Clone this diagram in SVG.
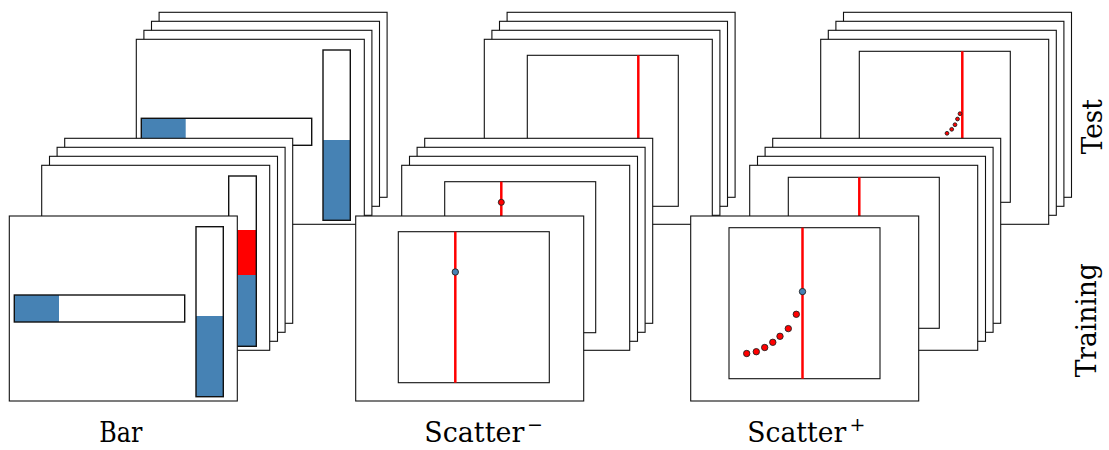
<svg xmlns="http://www.w3.org/2000/svg" width="1109" height="450" viewBox="0 0 1109 450">
  <style>
    .frame { fill: #fff; stroke: #111; stroke-width: 1.1; }
    .plot { fill: #fff; stroke: #111; stroke-width: 1.1; }
    .bar { fill: none; stroke: #111; stroke-width: 1.4; }
    .blue { fill: #4682b4; }
    .red { fill: #ff0000; }
    .rule { stroke: #ff0000; stroke-width: 2.5; fill: none; }
    .dot-r { fill: #ff0000; stroke: #222; stroke-width: 0.9; }
    .dot-b { fill: #4682b4; stroke: #222; stroke-width: 0.9; }
    .label { font-family: "DejaVu Serif", "Liberation Serif", serif; font-size: 28px; fill: #000; }
    .sup { font-family: "DejaVu Serif", "Liberation Serif", serif; font-size: 19px; fill: #000; }
  </style>

  <!-- Bar condition -->
  <g id="bar">
    <g id="bar-test">
      <rect class="frame" x="159.1" y="12.3" width="228" height="185"/>
      <rect class="frame" x="151.5" y="21.3" width="228" height="185"/>
      <rect class="frame" x="143.9" y="30.3" width="228" height="185"/>
      <rect class="frame" x="136.3" y="39.3" width="228" height="185"/>
      <rect class="blue" x="141.3" y="118.3" width="44.4" height="27"/>
      <rect class="bar" x="141.3" y="118.3" width="170.4" height="27"/>
      <rect class="blue" x="323" y="140" width="27.3" height="80.3"/>
      <rect class="bar" x="323" y="50" width="27.3" height="170.3"/>
    </g>
    <g id="bar-training">
      <rect class="frame" x="64.7" y="138.3" width="228" height="185"/>
      <rect class="frame" x="57.1" y="147.3" width="228" height="185"/>
      <rect class="frame" x="49.5" y="156.3" width="228" height="185"/>
      <rect class="frame" x="41.7" y="165.3" width="228" height="185"/>
      <rect class="red" x="228.7" y="230" width="27.6" height="45"/>
      <rect class="blue" x="228.7" y="275" width="27.6" height="71.3"/>
      <rect class="bar" x="228.7" y="176" width="27.6" height="170.3"/>
      <rect class="frame" x="9.3" y="216" width="228" height="185"/>
      <rect class="blue" x="14.3" y="295" width="44.7" height="27"/>
      <rect class="bar" x="14.3" y="295" width="170.4" height="27"/>
      <rect class="blue" x="196" y="316" width="27.3" height="80.7"/>
      <rect class="bar" x="196" y="226.7" width="27.3" height="170"/>
    </g>
  </g>

  <!-- Scatter minus condition -->
  <g id="scatter-minus">
    <g id="scatter-minus-test">
      <rect class="frame" x="507.1" y="12.3" width="228" height="185"/>
      <rect class="frame" x="499.5" y="21.3" width="228" height="185"/>
      <rect class="frame" x="491.9" y="30.3" width="228" height="185"/>
      <rect class="frame" x="484.3" y="39.3" width="228" height="185"/>
      <rect class="plot" x="527.3" y="55.3" width="151" height="151"/>
      <line class="rule" x1="638.3" y1="55.3" x2="638.3" y2="206.3"/>
    </g>
    <g id="scatter-minus-training">
      <rect class="frame" x="424.7" y="138.3" width="228" height="185"/>
      <rect class="frame" x="417.1" y="147.3" width="228" height="185"/>
      <rect class="frame" x="409.5" y="156.3" width="228" height="185"/>
      <rect class="frame" x="401.7" y="165.3" width="228" height="185"/>
      <rect class="plot" x="444.7" y="181.7" width="151" height="151"/>
      <line class="rule" x1="501.3" y1="181.7" x2="501.3" y2="332.7"/>
      <circle class="dot-r" cx="501.3" cy="202.3" r="3"/>
      <rect class="frame" x="355.7" y="216" width="228" height="185"/>
      <rect class="plot" x="398.3" y="231.7" width="151" height="151"/>
      <line class="rule" x1="455.3" y1="231.7" x2="455.3" y2="382.7"/>
      <circle class="dot-b" cx="455.3" cy="272" r="3.2"/>
    </g>
  </g>

  <!-- Scatter plus condition -->
  <g id="scatter-plus">
    <g id="scatter-plus-test">
      <rect class="frame" x="843.5" y="12.3" width="228" height="185"/>
      <rect class="frame" x="835.9" y="21.3" width="228" height="185"/>
      <rect class="frame" x="828.3" y="30.3" width="228" height="185"/>
      <rect class="frame" x="820.7" y="39.3" width="228" height="185"/>
      <rect class="plot" x="859.3" y="51.3" width="151" height="151"/>
      <line class="rule" x1="962.3" y1="51.3" x2="962.3" y2="202.3"/>
      <circle class="dot-r" cx="947" cy="133.3" r="1.9" stroke-width="0.7"/>
      <circle class="dot-r" cx="951.7" cy="129.3" r="1.9" stroke-width="0.7"/>
      <circle class="dot-r" cx="955" cy="124.7" r="1.9" stroke-width="0.7"/>
      <circle class="dot-r" cx="957.5" cy="119" r="1.9" stroke-width="0.7"/>
      <circle class="dot-r" cx="960" cy="113.7" r="1.9" stroke-width="0.7"/>
    </g>
    <g id="scatter-plus-training">
      <rect class="frame" x="772.7" y="138.3" width="228" height="185"/>
      <rect class="frame" x="765.1" y="147.3" width="228" height="185"/>
      <rect class="frame" x="757.5" y="156.3" width="228" height="185"/>
      <rect class="frame" x="749.7" y="165.3" width="228" height="185"/>
      <rect class="plot" x="788.3" y="177.3" width="151" height="151"/>
      <line class="rule" x1="859.3" y1="177.3" x2="859.3" y2="328.3"/>
      <rect class="frame" x="690.7" y="216" width="228" height="185"/>
      <rect class="plot" x="729" y="227.7" width="151" height="151"/>
      <line class="rule" x1="802.5" y1="227.7" x2="802.5" y2="378.7"/>
      <circle class="dot-r" cx="746.7" cy="353.5" r="3.2"/>
      <circle class="dot-r" cx="756.3" cy="351.7" r="3.2"/>
      <circle class="dot-r" cx="764.7" cy="347.5" r="3.2"/>
      <circle class="dot-r" cx="772.8" cy="342.3" r="3.2"/>
      <circle class="dot-r" cx="780" cy="336.3" r="3.2"/>
      <circle class="dot-r" cx="788.3" cy="328.6" r="3.2"/>
      <circle class="dot-r" cx="796.3" cy="314.3" r="3.2"/>
      <circle class="dot-b" cx="802.5" cy="291.6" r="3.2"/>
    </g>
  </g>

  <!-- Column and row labels -->
  <g id="labels">
    <text class="label" x="99.3" y="441.7" textLength="43" lengthAdjust="spacingAndGlyphs">Bar</text>
    <text class="label" x="424.3" y="441.7" textLength="100" lengthAdjust="spacingAndGlyphs">Scatter</text>
    <text class="sup" x="527" y="431">−</text>
    <text class="label" x="747.3" y="441.7" textLength="99" lengthAdjust="spacingAndGlyphs">Scatter</text>
    <text class="sup" x="849.5" y="431">+</text>
    <text class="label" text-anchor="middle" transform="translate(1101.5,126.7) rotate(-90)" textLength="55" lengthAdjust="spacingAndGlyphs">Test</text>
    <text class="label" text-anchor="middle" transform="translate(1095.5,320.3) rotate(-90)" textLength="114" lengthAdjust="spacingAndGlyphs">Training</text>
  </g>
</svg>
